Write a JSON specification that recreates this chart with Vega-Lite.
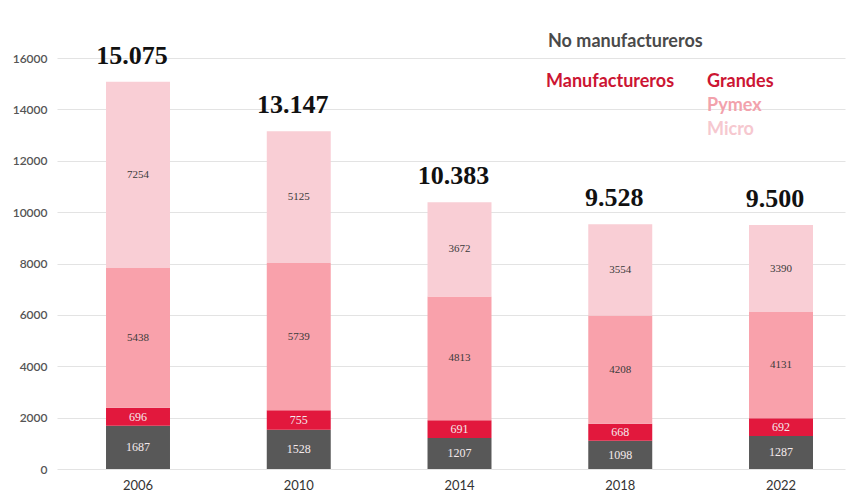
{
  "$schema": "https://vega.github.io/schema/vega-lite/v6.json",
  "width": 788,
  "height": 411,
  "autosize": "none",
  "padding": {"left": 57, "top": 58, "right": 4, "bottom": 24},
  "background": "white",
  "config": {
    "view": {"stroke": null},
    "font": "Lato",
    "locale": {
      "number": {"decimal": ",", "thousands": ".", "grouping": [3], "currency": ["", " €"]}
    },
    "axisY": {
      "values": [0, 2000, 4000, 6000, 8000, 10000, 12000, 14000, 16000],
      "format": "d",
      "domain": false,
      "ticks": false,
      "labelPadding": 10,
      "labelFont": "Lato",
      "labelFontSize": 12,
      "labelFontWeight": 600,
      "labelColor": "#555555",
      "gridColor": "#e3e3e3",
      "gridWidth": 1.2
    },
    "axisX": {
      "domain": false,
      "ticks": false,
      "grid": false,
      "labelAngle": 0,
      "labelPadding": 10,
      "labelFont": "Lato",
      "labelFontSize": 13,
      "labelColor": "#333333"
    }
  },
  "data": {
    "values": [
      {"year": "2006", "group": "No manufactureros", "order": 1, "value": 1687},
      {"year": "2006", "group": "Grandes", "order": 2, "value": 696},
      {"year": "2006", "group": "Pymex", "order": 3, "value": 5438},
      {"year": "2006", "group": "Micro", "order": 4, "value": 7254},
      {"year": "2010", "group": "No manufactureros", "order": 1, "value": 1528},
      {"year": "2010", "group": "Grandes", "order": 2, "value": 755},
      {"year": "2010", "group": "Pymex", "order": 3, "value": 5739},
      {"year": "2010", "group": "Micro", "order": 4, "value": 5125},
      {"year": "2014", "group": "No manufactureros", "order": 1, "value": 1207},
      {"year": "2014", "group": "Grandes", "order": 2, "value": 691},
      {"year": "2014", "group": "Pymex", "order": 3, "value": 4813},
      {"year": "2014", "group": "Micro", "order": 4, "value": 3672},
      {"year": "2018", "group": "No manufactureros", "order": 1, "value": 1098},
      {"year": "2018", "group": "Grandes", "order": 2, "value": 668},
      {"year": "2018", "group": "Pymex", "order": 3, "value": 4208},
      {"year": "2018", "group": "Micro", "order": 4, "value": 3554},
      {"year": "2022", "group": "No manufactureros", "order": 1, "value": 1287},
      {"year": "2022", "group": "Grandes", "order": 2, "value": 692},
      {"year": "2022", "group": "Pymex", "order": 3, "value": 4131},
      {"year": "2022", "group": "Micro", "order": 4, "value": 3390}
    ]
  },
  "encoding": {
    "x": {
      "field": "year",
      "type": "ordinal",
      "title": null,
      "scale": {"paddingInner": 0.602, "paddingOuter": 0.252, "align": 0.605}
    }
  },
  "layer": [
    {
      "transform": [
        {"stack": "value", "groupby": ["year"], "sort": [{"field": "order", "order": "ascending"}], "as": ["y0", "y1"]},
        {"filter": "datum.group == 'No manufactureros'"}
      ],
      "mark": "bar",
      "encoding": {
        "y": {"field": "y0", "type": "quantitative", "title": null, "scale": {"domain": [0, 16000], "nice": false}},
        "y2": {"field": "y1"},
        "color": {
          "field": "group",
          "type": "nominal",
          "scale": {"domain": ["No manufactureros"], "range": ["#585858"]},
          "legend": {
            "title": null,
            "orient": "none",
            "legendX": 473,
            "legendY": -25,
            "padding": 0,
            "symbolSize": 0,
            "symbolStrokeWidth": 0,
            "symbolOpacity": 0,
            "labelOffset": 0,
            "labelLimit": 300,
            "labelFont": "Lato",
            "labelFontSize": 18,
            "labelFontWeight": "bold",
            "labelColor": "#4a4a4a"
          }
        }
      }
    },
    {
      "transform": [
        {"stack": "value", "groupby": ["year"], "sort": [{"field": "order", "order": "ascending"}], "as": ["y0", "y1"]},
        {"filter": "datum.group != 'No manufactureros'"}
      ],
      "mark": "bar",
      "encoding": {
        "y": {"field": "y0", "type": "quantitative", "title": null},
        "y2": {"field": "y1"},
        "color": {
          "field": "group",
          "type": "nominal",
          "scale": {"domain": ["Grandes", "Pymex", "Micro"], "range": ["#e2183d", "#f9a1ab", "#f9ced5"]},
          "legend": {
            "title": "Manufactureros",
            "orient": "none",
            "legendX": 489,
            "legendY": 15,
            "padding": 0,
            "titleOrient": "left",
            "titleAnchor": "start",
            "titleBaseline": "top",
            "titleFont": "Lato",
            "titleFontSize": 18,
            "titleFontWeight": "bold",
            "titleColor": "#cc1533",
            "titlePadding": 14,
            "symbolSize": 0,
            "symbolStrokeWidth": 0,
            "symbolOpacity": 0,
            "labelOffset": 0,
            "labelLimit": 300,
            "labelFont": "Lato",
            "labelFontSize": 18,
            "labelFontWeight": "bold",
            "rowPadding": 6,
            "encode": {
              "labels": {
                "update": {
                  "fill": {"signal": "datum.label == 'Grandes' ? '#cc1533' : datum.label == 'Pymex' ? '#f2a2ac' : '#f6c8cf'"}
                }
              }
            }
          }
        }
      }
    },
    {
      "mark": {"type": "text", "font": "Liberation Serif", "baseline": "middle"},
      "encoding": {
        "y": {"field": "value", "type": "quantitative", "stack": "zero", "bandPosition": 0.5, "title": null},
        "order": {"field": "order", "type": "quantitative", "sort": "ascending"},
        "text": {"field": "value", "type": "quantitative", "format": "d"},
        "size": {"condition": {"test": "datum.order <= 2", "value": 12}, "value": 11},
        "color": {
          "condition": {"test": "datum.order <= 2", "value": "#f4eaec"},
          "value": "#3a3a3a"
        }
      }
    },
    {
      "mark": {"type": "text", "font": "Liberation Serif", "fontWeight": "bold", "fontSize": 26, "baseline": "bottom", "dy": -13, "dx": -6, "color": "#111111"},
      "encoding": {
        "y": {"aggregate": "sum", "field": "value", "type": "quantitative", "title": null},
        "text": {"aggregate": "sum", "field": "value", "type": "quantitative", "format": ",d"}
      }
    }
  ],
  "resolve": {"scale": {"color": "independent"}, "legend": {"color": "independent"}}
}
